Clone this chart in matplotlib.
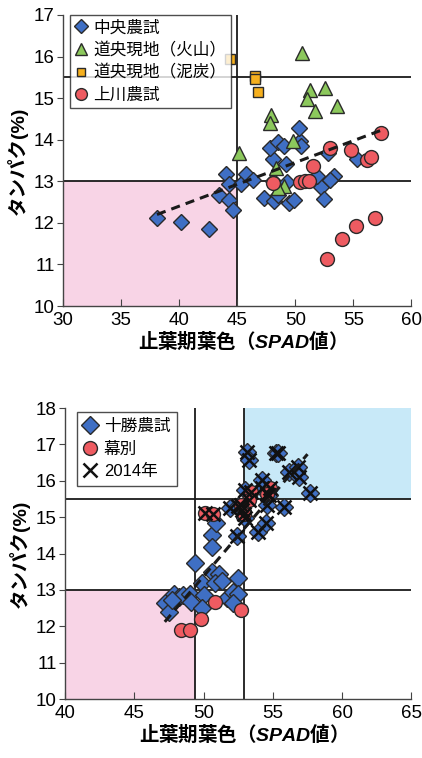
import numpy as np
import matplotlib
matplotlib.use("Agg")
import matplotlib.pyplot as plt
from matplotlib.patches import Rectangle

plt.rcParams['font.family'] = ['Liberation Sans', 'Noto Sans CJK JP', 'DejaVu Sans']
plt.rcParams['mathtext.fontset'] = 'custom'
plt.rcParams['mathtext.it'] = 'Liberation Sans:italic:bold'
plt.rcParams['mathtext.rm'] = 'Noto Sans CJK JP:bold'
plt.rcParams['mathtext.bf'] = 'Noto Sans CJK JP:bold'

# ---- top panel data ----
chuo_x = [38.1, 40.2, 42.6, 43.4, 44.0, 44.3, 44.6, 44.3, 45.3, 45.8, 46.4, 47.3, 48.2, 48.5,
          48.1, 49.3, 49.5, 49.9, 49.2, 48.1, 47.8, 48.5, 49.0, 50.4, 50.5, 50.3, 52.2, 51.9,
          52.5, 52.8, 53.3, 53.0, 55.3]
chuo_y = [12.12, 12.01, 11.85, 12.66, 13.18, 12.56, 12.30, 12.94, 12.94, 13.18, 13.04, 12.60,
          12.52, 12.68, 13.00, 12.98, 12.48, 12.56, 13.42, 13.54, 13.79, 13.94, 13.84, 13.96,
          13.84, 14.28, 12.86, 13.12, 12.58, 13.67, 13.12, 13.04, 13.54]
kazan_x = [45.2, 50.6, 47.9, 47.8, 49.8, 51.3, 51.0, 52.6, 51.7, 53.6, 48.3, 49.0, 48.5]
kazan_y = [13.67, 16.08, 14.60, 14.40, 13.96, 15.20, 14.98, 15.24, 14.68, 14.82, 13.32, 12.88, 12.84]
deitan_x = [44.4, 46.5, 46.5, 46.8]
deitan_y = [15.95, 15.54, 15.45, 15.15]
kamikawa_x = [48.1, 50.4, 50.8, 51.2, 51.5, 53.0, 54.8, 56.2, 56.5, 57.4, 52.7, 54.0, 55.2, 56.9]
kamikawa_y = [12.96, 12.98, 13.00, 13.00, 13.36, 13.79, 13.76, 13.50, 13.58, 14.15, 11.12,
              11.62, 11.93, 12.12]
top_trend_x = [38.1, 57.4]
top_trend_coef = [0.105, 8.2]

# ---- bottom panel data ----
tokachi_x = [47.2, 47.5, 47.9, 48.2, 48.5, 49.0, 49.1, 49.4, 49.9, 50.0, 49.9, 50.6, 50.6,
             50.9, 50.6, 51.1, 50.8, 51.3, 51.7, 52.1, 52.5, 52.5, 52.1, 47.7]
tokachi_y = [12.63, 12.40, 12.90, 12.81, 12.86, 12.90, 12.67, 13.75, 13.20, 12.86, 12.49,
             14.51, 14.17, 14.83, 13.50, 13.45, 13.18, 13.25, 12.77, 12.95, 13.32, 12.90,
             12.63, 12.72]
tokachi14_x = [53.1, 53.3, 55.2, 55.4, 56.2, 56.8, 56.9, 54.2, 54.2, 54.7, 57.7, 53.0, 51.9,
               52.5, 54.6, 55.8, 52.4, 53.9, 54.5, 53.0, 52.8]
tokachi14_y = [16.80, 16.57, 16.77, 16.75, 16.25, 16.39, 16.11, 16.02, 15.79, 15.61, 15.67,
               15.76, 15.26, 15.31, 15.33, 15.27, 14.48, 14.60, 14.83, 14.97, 15.20]
makubetsu_x = [48.4, 49.0, 49.8, 50.8, 52.7]
makubetsu_y = [11.91, 11.90, 12.19, 12.67, 12.46]
makubetsu14_x = [50.1, 50.7, 53.4, 53.3, 52.7, 52.9, 54.8, 54.6]
makubetsu14_y = [15.12, 15.10, 15.70, 15.47, 15.33, 15.10, 15.79, 15.65]
bot_trend_x = [47.2, 57.5]
bot_trend_coef = [0.4475, -9.0]

blue = '#3f6fc4'
green = '#8cc85c'
orange = '#f6b01e'
red = '#ee5b61'
edge = '#2a2a2a'

fig = plt.figure(figsize=(4.22, 7.58), dpi=100)
ax1 = fig.add_axes([0.149, 0.5963, 0.826, 0.3840])
ax2 = fig.add_axes([0.154, 0.0778, 0.821, 0.3839])


def style(ax, xlim, ylim, xticks):
    ax.set_xlim(*xlim)
    ax.set_ylim(*ylim)
    ax.set_xticks(xticks)
    ax.set_yticks(range(ylim[0], ylim[1] + 1))
    for s in ['top', 'right']:
        ax.spines[s].set_visible(False)
    for s in ['left', 'bottom']:
        ax.spines[s].set_color('#444444')
        ax.spines[s].set_linewidth(1.0)
    ax.tick_params(axis='x', direction='in', length=5, labelsize=13.5, pad=4, color='#444444')
    ax.tick_params(axis='y', direction='out', length=4, labelsize=13.5, pad=2, color='#444444')
    ax.set_xlabel('止葉期葉色（$\\mathit{SPAD}$値）', fontsize=14, fontweight='bold',
                  family='Noto Sans CJK JP', labelpad=0)
    ax.set_ylabel('タンパク(%)', fontsize=14, fontweight='bold', labelpad=4)


mk = dict(linestyle='none', markeredgecolor=edge, markeredgewidth=1.0)

# top panel
ax = ax1
style(ax, (30, 60), (10, 17), range(30, 61, 5))
ax.add_patch(Rectangle((30, 10), 15, 3, facecolor='#f8d4e6', edgecolor='none', zorder=0))
ax.axvline(45, color='#1a1a1a', lw=1.3, zorder=1)
ax.axhline(13, color='#1a1a1a', lw=1.3, zorder=1)
ax.axhline(15.5, color='#1a1a1a', lw=1.3, zorder=1)
ax.plot(chuo_x, chuo_y, marker='D', ms=8.5, color=blue, label='中央農試', zorder=3, **mk)
ax.plot(kazan_x, kazan_y, marker='^', ms=10, color=green, label='道央現地（火山）', zorder=3, **mk)
ax.plot(deitan_x, deitan_y, marker='s', ms=7.5, color=orange, label='道央現地（泥炭）', zorder=3, **mk)
ax.plot(kamikawa_x, kamikawa_y, marker='o', ms=10, color=red, label='上川農試', zorder=3, **mk)
tx = np.array(top_trend_x)
ax.plot(tx, np.polyval(top_trend_coef, tx), color='#1a1a1a', lw=2.2, ls=(0, (3, 2)), zorder=4)
leg = ax.legend(loc='upper left', bbox_to_anchor=(0.02, 1.0), fontsize=12, frameon=True,
                fancybox=False, edgecolor='#222222', handlelength=0.7, handletextpad=0.4,
                borderpad=0.3, labelspacing=0.4, borderaxespad=0.0, markerscale=0.85)
leg.get_frame().set_linewidth(1.0)

# bottom panel
ax = ax2
style(ax, (40, 65), (10, 18), range(40, 66, 5))
ax.add_patch(Rectangle((40, 10), 9.4, 3, facecolor='#f8d4e6', edgecolor='none', zorder=0))
ax.add_patch(Rectangle((52.9, 15.5), 12.1, 2.5, facecolor='#c8e9f8', edgecolor='none', zorder=0))
ax.axvline(49.4, color='#1a1a1a', lw=1.3, zorder=1)
ax.axvline(52.9, color='#1a1a1a', lw=1.3, zorder=1)
ax.axhline(13, color='#1a1a1a', lw=1.3, zorder=1)
ax.axhline(15.5, color='#1a1a1a', lw=1.3, zorder=1)
ax.plot(tokachi_x + tokachi14_x, tokachi_y + tokachi14_y, marker='D', ms=9, color=blue,
        label='十勝農試', zorder=3, **mk)
ax.plot(makubetsu_x + makubetsu14_x, makubetsu_y + makubetsu14_y, marker='o', ms=10, color=red,
        label='幕別', zorder=3, **mk)
ax.plot(tokachi14_x + makubetsu14_x, tokachi14_y + makubetsu14_y, marker='x', ms=10, mew=1.8,
        color='#111111', linestyle='none', label='2014年', zorder=4)
bx = np.array(bot_trend_x)
ax.plot(bx, np.polyval(bot_trend_coef, bx), color='#1a1a1a', lw=2.2, ls=(0, (3, 2)), zorder=5)
leg = ax.legend(loc='upper left', bbox_to_anchor=(0.035, 0.985), fontsize=12, frameon=True,
                fancybox=False, edgecolor='#222222', handlelength=0.8, handletextpad=0.4,
                borderpad=0.4, labelspacing=0.45, borderaxespad=0.0)
leg.get_frame().set_linewidth(1.0)

fig.savefig('out.png', dpi=100)
